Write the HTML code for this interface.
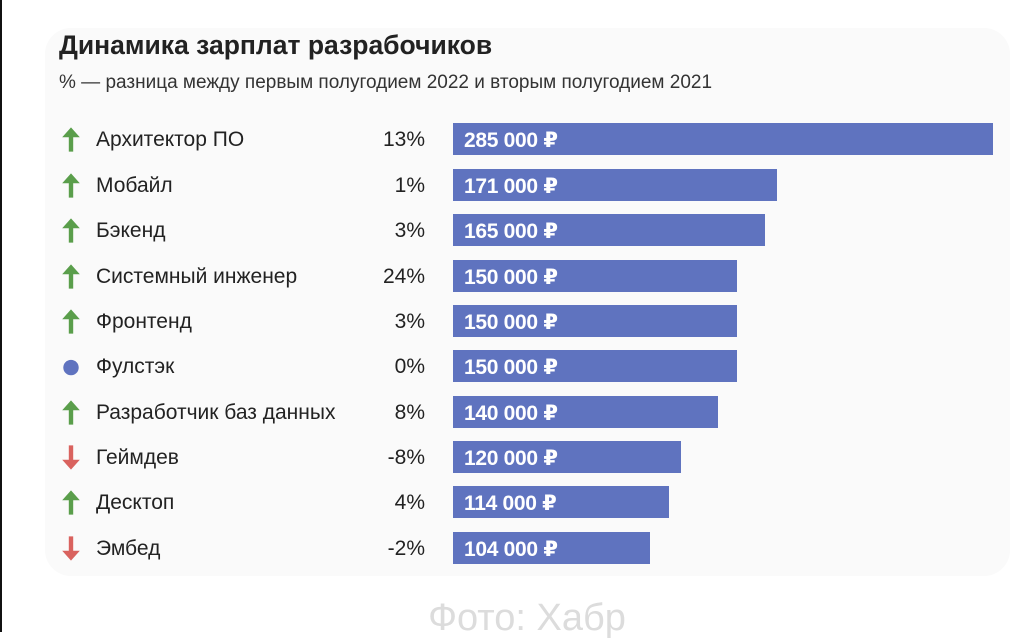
<!DOCTYPE html>
<html><head><meta charset="utf-8"><style>
body{margin:0;width:1024px;height:632px;background:#fff;position:relative;overflow:hidden;font-family:"Liberation Sans","DejaVu Sans",sans-serif;}
.edge{position:absolute;left:0;top:0;width:2px;height:632px;background:#111}
.card{position:absolute;left:45px;top:28px;width:965px;height:548px;background:#fafafa;border-radius:26px}
.t{position:absolute;left:59px;top:30px;font-size:26.5px;font-weight:bold;color:#222}
.s{position:absolute;left:59px;top:72px;font-size:19px;color:#333}
.row{position:absolute;left:0;height:32px;width:1024px}
.ic{position:absolute;left:60px;top:3px;width:22px;height:27px}
.lb{position:absolute;left:96px;top:5px;font-size:21px;color:#222}
.pc{position:absolute;right:599px;top:5px;font-size:21px;color:#222}
.bar{position:absolute;left:453px;top:0;height:32px;background:#5f73bf}
.bar span{position:absolute;left:11px;top:5px;font-size:21px;font-weight:bold;color:#fff;letter-spacing:-0.3px}
.wm{position:absolute;left:0;width:1024px;text-align:center;top:597px;font-size:38px;color:#dcdcdc;padding-left:30px;box-sizing:border-box}
</style></head><body>
<div class="edge"></div>
<div class="card"></div>
<div class="t">Динамика зарплат разрабочиков</div>
<div class="s">% — разница между первым полугодием 2022 и вторым полугодием 2021</div>

<div class="row" style="top:123px"><svg class="ic" viewBox="0 0 20 24"><path d="M10 1 L2 10 H8 V23 H12 V10 H18 Z" fill="#5a9e4b"/></svg><div class="lb">Архитектор ПО</div><div class="pc">13%</div><div class="bar" style="width:540px"><span>285 000 ₽</span></div></div>
<div class="row" style="top:169px"><svg class="ic" viewBox="0 0 20 24"><path d="M10 1 L2 10 H8 V23 H12 V10 H18 Z" fill="#5a9e4b"/></svg><div class="lb">Мобайл</div><div class="pc">1%</div><div class="bar" style="width:324px"><span>171 000 ₽</span></div></div>
<div class="row" style="top:214px"><svg class="ic" viewBox="0 0 20 24"><path d="M10 1 L2 10 H8 V23 H12 V10 H18 Z" fill="#5a9e4b"/></svg><div class="lb">Бэкенд</div><div class="pc">3%</div><div class="bar" style="width:312px"><span>165 000 ₽</span></div></div>
<div class="row" style="top:260px"><svg class="ic" viewBox="0 0 20 24"><path d="M10 1 L2 10 H8 V23 H12 V10 H18 Z" fill="#5a9e4b"/></svg><div class="lb">Системный инженер</div><div class="pc">24%</div><div class="bar" style="width:284px"><span>150 000 ₽</span></div></div>
<div class="row" style="top:305px"><svg class="ic" viewBox="0 0 20 24"><path d="M10 1 L2 10 H8 V23 H12 V10 H18 Z" fill="#5a9e4b"/></svg><div class="lb">Фронтенд</div><div class="pc">3%</div><div class="bar" style="width:284px"><span>150 000 ₽</span></div></div>
<div class="row" style="top:350px"><svg class="ic" viewBox="0 0 20 24"><circle cx="10" cy="13" r="7" fill="#5f73bf"/></svg><div class="lb">Фулстэк</div><div class="pc">0%</div><div class="bar" style="width:284px"><span>150 000 ₽</span></div></div>
<div class="row" style="top:396px"><svg class="ic" viewBox="0 0 20 24"><path d="M10 1 L2 10 H8 V23 H12 V10 H18 Z" fill="#5a9e4b"/></svg><div class="lb">Разработчик баз данных</div><div class="pc">8%</div><div class="bar" style="width:265px"><span>140 000 ₽</span></div></div>
<div class="row" style="top:441px"><svg class="ic" viewBox="0 0 20 24"><path d="M10 23 L2 14 H8 V1 H12 V14 H18 Z" fill="#d9625e"/></svg><div class="lb">Геймдев</div><div class="pc">-8%</div><div class="bar" style="width:228px"><span>120 000 ₽</span></div></div>
<div class="row" style="top:486px"><svg class="ic" viewBox="0 0 20 24"><path d="M10 1 L2 10 H8 V23 H12 V10 H18 Z" fill="#5a9e4b"/></svg><div class="lb">Десктоп</div><div class="pc">4%</div><div class="bar" style="width:216px"><span>114 000 ₽</span></div></div>
<div class="row" style="top:532px"><svg class="ic" viewBox="0 0 20 24"><path d="M10 23 L2 14 H8 V1 H12 V14 H18 Z" fill="#d9625e"/></svg><div class="lb">Эмбед</div><div class="pc">-2%</div><div class="bar" style="width:197px"><span>104 000 ₽</span></div></div>

<div class="wm">Фото: Хабр</div>
</body></html>
